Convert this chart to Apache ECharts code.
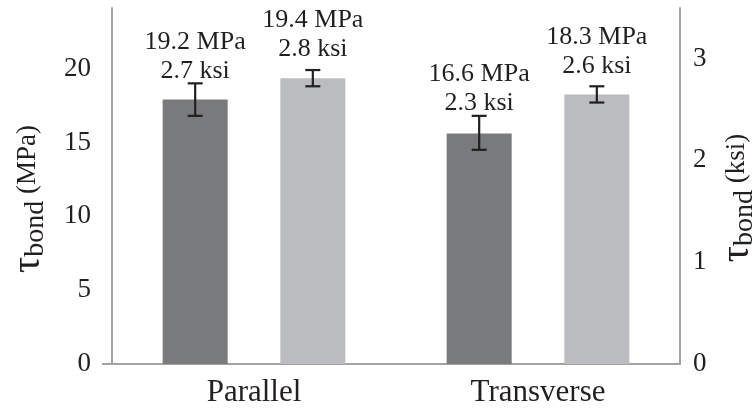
<!DOCTYPE html>
<html><head><meta charset="utf-8">
<script src="https://cdn.jsdelivr.net/npm/echarts@6/dist/echarts.min.js"></script>
<style>html,body{margin:0;padding:0;background:#fff}#c{width:754px;height:408px}</style>
</head><body><div id="c"></div>
<script>
const categories = ['Parallel', 'Transverse'];
// bar heights (MPa) as drawn
const darkMean = [17.9, 15.6];
const darkLow = [16.8, 14.5];
const darkHigh = [19.0, 16.8];
const lightMean = [19.35, 18.25];
const lightLow = [18.8, 17.7];
const lightHigh = [19.9, 18.8];
// annotation values
const darkMPa = [19.2, 16.6];
const darkKsi = [2.7, 2.3];
const lightMPa = [19.4, 18.3];
const lightKsi = [2.8, 2.6];
const leftTicks = [0, 5, 10, 15, 20];
const rightTicks = [0, 1, 2, 3];

const KSI = 6.895;
const LMAX = 24.1;
const FONT = "'Liberation Serif', 'Times New Roman', Times, serif";
const TXT = '#231f20';
const AXC = '#a3a3a3';
const BW = 65, GAP = 0.81;
const OFF = BW * (1 + GAP) / 2;

function errSeries(name, low, high, mpa, ksi, sign, labOff) {
  return {
    type: 'custom', name: name, yAxisIndex: 0, z: 10,
    data: categories.map((c, i) => [i, low[i], high[i], mpa[i], ksi[i]]),
    renderItem: function (params, api) {
      const i = api.value(0);
      const pLo = api.coord([i, api.value(1)]);
      const pHi = api.coord([i, api.value(2)]);
      const x = pLo[0] + sign * OFF;
      const cw = 7.5;
      const ls = { stroke: TXT, lineWidth: 2.2 };
      return {
        type: 'group', children: [
          { type: 'line', shape: { x1: x, y1: pLo[1], x2: x, y2: pHi[1] }, style: ls },
          { type: 'line', shape: { x1: x - cw, y1: pLo[1], x2: x + cw, y2: pLo[1] }, style: ls },
          { type: 'line', shape: { x1: x - cw, y1: pHi[1], x2: x + cw, y2: pHi[1] }, style: ls },
          { type: 'text', x: x, y: pHi[1] - labOff, style: {
              text: api.value(3).toFixed(1) + ' MPa\n' + api.value(4).toFixed(1) + ' ksi',
              fontFamily: FONT, fontSize: 26, lineHeight: 29, fill: TXT,
              align: 'center', verticalAlign: 'bottom' } }
        ]
      };
    }
  };
}

const titleRich = {
  t: { fontFamily: FONT, fontSize: 40, lineHeight: 36, fill: TXT, color: TXT },
  s: { fontFamily: FONT, fontSize: 28, lineHeight: 36, padding: [16, 0, 0, 0], fill: TXT, color: TXT },
  m: { fontFamily: FONT, fontSize: 27, lineHeight: 36, fill: TXT, color: TXT }
};

const chart = echarts.init(document.getElementById('c'), null, { renderer: 'canvas' });
chart.setOption({
  animation: false,
  grid: { left: 112, right: 74, top: 8, bottom: 40, containLabel: false },
  xAxis: {
    type: 'category', data: categories,
    axisLine: { lineStyle: { color: AXC, width: 2 } },
    axisTick: { show: false },
    axisLabel: { color: TXT, fontFamily: FONT, fontSize: 31, margin: 13 }
  },
  yAxis: [
    {
      type: 'value', min: 0, max: LMAX, interval: 5,
      axisLine: { show: true, lineStyle: { color: AXC, width: 2 } },
      axisTick: { show: false }, splitLine: { show: false },
      axisLabel: { color: TXT, fontFamily: FONT, fontSize: 27, margin: 21,
        formatter: v => leftTicks.includes(v) ? String(v) : '' }
    },
    {
      type: 'value', min: 0, max: LMAX / KSI, interval: 1, position: 'right',
      axisLine: { show: true, lineStyle: { color: AXC, width: 2 } },
      axisTick: { show: false }, splitLine: { show: false },
      axisLabel: { color: TXT, fontFamily: FONT, fontSize: 27, margin: 13,
        formatter: v => rightTicks.includes(v) ? String(v) : '' }
    }
  ],
  series: [
    { type: 'bar', data: darkMean, barWidth: BW, barGap: (GAP * 100) + '%',
      itemStyle: { color: '#797a7c' } },
    { type: 'bar', data: lightMean, barWidth: BW,
      itemStyle: { color: '#bbbcbf' } },
    errSeries('darkErr', darkLow, darkHigh, darkMPa, darkKsi, -1, -2),
    errSeries('lightErr', lightLow, lightHigh, lightMPa, lightKsi, 1, 6)
  ],
  graphic: [
    { type: 'text', x: 28, y: 199, rotation: Math.PI / 2, style: {
        text: '{t|τ}{s|bond}{m| (MPa)}', align: 'center', verticalAlign: 'middle', rich: titleRich } },
    { type: 'text', x: 737, y: 198, rotation: Math.PI / 2, style: {
        text: '{t|τ}{s|bond}{m| (ksi)}', align: 'center', verticalAlign: 'middle', rich: titleRich } }
  ]
});
// small extension of the baseline to the left of the value axis
const y0 = chart.convertToPixel({ yAxisIndex: 0 }, 0);
const gx = chart.getModel().getComponent('grid').coordinateSystem.getRect().x;
chart.setOption({ graphic: [{}, {}, { type: 'line', shape: { x1: gx - 10, y1: y0, x2: gx, y2: y0 },
  style: { stroke: AXC, lineWidth: 2 } }] });
</script></body></html>
